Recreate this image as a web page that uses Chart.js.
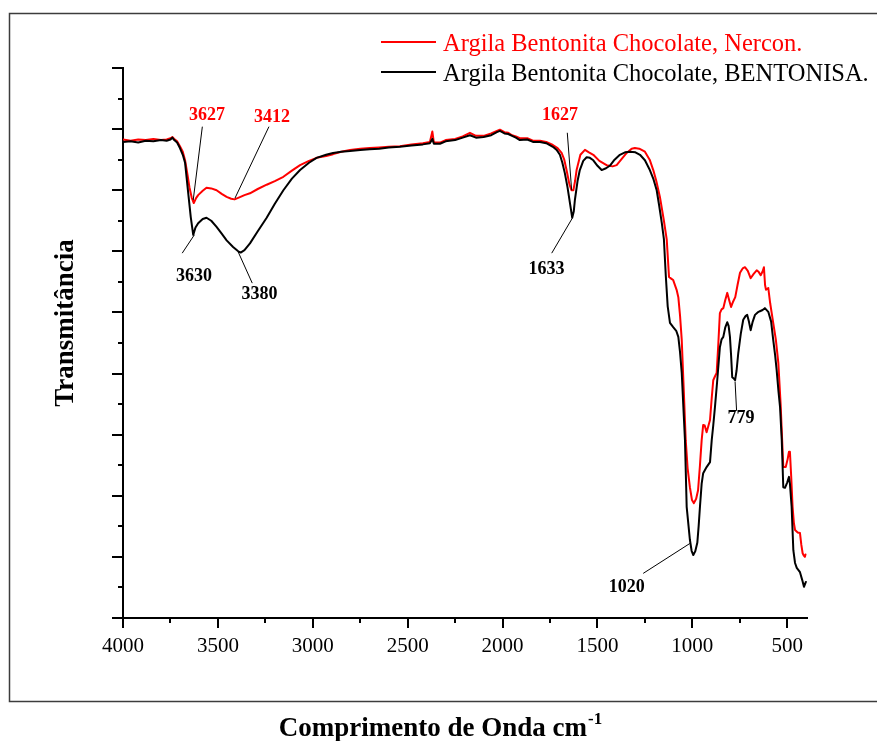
<!DOCTYPE html>
<html>
<head>
<meta charset="utf-8">
<script src="https://cdn.jsdelivr.net/npm/chart.js@4.4.1/dist/chart.umd.min.js"></script>
<style>
  html, body { margin: 0; padding: 0; background: #fff; }
  #wrap { width: 877px; height: 741px; }
</style>
</head>
<body>
<div id="wrap"><canvas id="c" width="877" height="741"></canvas></div>
<script>
// ---- Data (wavenumber cm-1, transmittance in arbitrary units) ----
const seriesNames = ['Argila Bentonita Chocolate, Nercon.', 'Argila Bentonita Chocolate, BENTONISA.'];

const redWn = [4000,3960,3920,3880,3840,3800,3770,3750,3740,3730,3715,3700,3685,3673,3660,3650,3638,3627,3615,3604,3580,3560,3535,3507,3480,3454,3430,3412,3390,3360,3331,3290,3243,3200,3155,3110,3067,3020,2980,2930,2893,2850,2804,2750,2700,2650,2600,2541,2480,2420,2383,2370,2362,2330,2300,2250,2210,2172,2140,2100,2060,2030,2014,1990,1970,1950,1930,1909,1870,1840,1803,1770,1735,1710,1689,1675,1663,1648,1637,1627,1618,1610,1590,1566,1545,1522,1490,1452,1420,1399,1370,1346,1320,1303,1280,1250,1225,1206,1190,1171,1150,1135,1123,1110,1101,1083,1074,1065,1056,1045,1035,1025,1013,1002,992,980,970,960,951,943,935,925,915,907,898,890,880,872,863,855,846,837,827,816,806,796,785,774,762,749,735,723,708,693,677,661,650,640,630,623,617,612,600,590,574,560,547,535,521,508,498,491,486,479,472,465,459,445,433,426,419,413,407,404];
const redT  = [78.3,78.1,78.3,78.2,78.4,78.2,78.3,78.5,78.7,78.4,78.0,77.2,76.3,74.9,72.5,70.5,68.8,67.9,68.7,69.2,69.9,70.4,70.3,70.0,69.4,68.9,68.6,68.5,68.8,69.2,69.5,70.2,70.9,71.5,72.2,73.2,74.1,74.8,75.3,75.6,75.9,76.3,76.6,76.8,76.9,77.0,77.1,77.2,77.5,77.7,77.9,79.6,77.8,77.8,78.2,78.4,78.8,79.4,78.9,78.9,79.3,79.7,79.9,79.5,79.4,79.0,78.8,78.5,78.5,78.1,78.1,77.9,77.4,76.9,76.1,75.0,73.3,71.0,70.0,70.0,71.5,73.3,75.8,76.6,76.2,75.8,74.8,74.1,73.9,74.1,75.2,76.1,76.8,76.9,76.8,76.3,75.0,73.3,71.5,68.9,65.0,61.9,55.8,55.5,55.3,53.7,52.5,49.5,45.5,37.0,29.1,24.5,21.4,19.3,18.8,19.5,20.9,25.0,29.1,31.6,31.5,30.4,31.5,32.4,36.0,38.9,39.6,40.1,45.0,49.9,50.5,50.7,52.0,53.2,52.0,50.9,51.8,52.5,54.5,56.5,57.2,57.4,56.8,55.6,56.3,56.9,56.6,56.1,56.7,57.4,54.5,53.7,54.0,51.5,48.3,45.5,41.7,35.0,24.7,24.7,26.0,27.2,27.2,23.0,18.2,15.5,14.4,14.0,13.9,12.0,10.6,10.2,10.0,10.4];

const blackWn = [4000,3960,3920,3880,3840,3800,3770,3750,3740,3730,3715,3700,3685,3673,3658,3643,3630,3618,3604,3580,3560,3535,3507,3480,3454,3420,3393,3380,3360,3331,3290,3243,3200,3155,3110,3067,3020,2980,2930,2893,2850,2804,2750,2700,2650,2600,2541,2480,2420,2383,2370,2362,2330,2300,2250,2210,2172,2140,2100,2060,2030,2014,1990,1970,1950,1930,1909,1870,1840,1803,1770,1735,1715,1698,1685,1672,1658,1645,1633,1625,1619,1605,1593,1575,1557,1540,1522,1500,1478,1455,1435,1410,1382,1355,1329,1300,1276,1250,1224,1205,1188,1175,1161,1150,1140,1130,1118,1101,1085,1074,1065,1056,1045,1039,1030,1013,1004,995,985,974,967,960,951,943,925,907,898,890,881,870,855,846,837,827,816,809,802,796,790,782,775,767,758,745,732,720,711,702,693,682,670,656,644,630,618,600,585,574,564,556,546,538,529,521,512,500,491,486,477,468,459,450,440,433,421,412,402];
const blackT  = [77.9,78.0,77.8,78.1,78.0,78.2,78.1,78.3,78.6,78.2,77.8,76.9,75.8,74.5,70.0,65.6,62.7,63.9,64.6,65.3,65.5,65.0,64.0,62.9,61.8,60.7,60.0,59.8,60.2,61.3,63.3,65.5,67.8,70.0,71.9,73.3,74.5,75.3,75.8,76.1,76.3,76.4,76.6,76.7,76.8,77.0,77.1,77.3,77.5,77.7,78.4,77.6,77.6,78.0,78.2,78.6,79.0,78.6,78.7,79.0,79.5,79.7,79.3,79.2,78.9,78.6,78.2,78.3,77.9,77.9,77.7,77.1,76.6,75.8,74.5,72.8,70.5,67.9,65.5,66.5,68.4,71.5,73.3,74.8,75.4,75.3,74.9,74.0,73.3,73.6,74.0,75.0,75.8,76.2,76.3,76.2,75.8,74.9,73.3,71.8,70.0,67.5,64.6,62.0,56.0,51.0,48.3,47.6,47.0,46.0,43.5,40.1,33.0,29.1,18.2,12.8,11.0,10.3,10.9,12.3,15.0,18.2,22.0,23.7,24.7,25.5,29.1,31.5,34.5,38.5,44.3,45.6,46.0,47.5,48.4,47.8,46.0,43.0,39.4,39.2,38.9,40.5,43.4,46.5,48.8,49.4,49.6,48.5,47.1,48.5,49.6,50.0,50.2,50.4,50.7,50.1,48.5,45.5,43.0,40.6,37.0,34.5,29.1,21.4,21.3,22.2,23.1,22.0,18.2,11.1,9.0,8.2,7.8,7.5,6.2,5.1,5.9];

// Axis settings
const xMin = 396, xMax = 4000;
const xTickValues = [4000,3750,3500,3250,3000,2750,2500,2250,2000,1750,1500,1250,1000,750,500];
const xLabelStep = 500;
const yMin = 0, yMax = 90;
const yTickValues = [0,5,10,15,20,25,30,35,40,45,50,55,60,65,70,75,80,85,90];
const yMajorStep = 10;

// Peak annotations (data units)
const peakLabels = ['3627', '3412', '3630', '3380', '1627', '1633', '779', '1020'];
const peakColors = ['#ff0000', '#ff0000', '#000', '#000', '#ff0000', '#000', '#000', '#000'];
const peakTextWn = [3557, 3215, 3626, 3281, 1698, 1768, 744, 1346];
const peakTextT  = [82.3, 81.9, 55.9, 52.9, 82.3, 57.0, 32.6, 5.0];
const peakFromWn = [3582, 3231, 3688, 3319, 1659, 1741, 767, 1259];
const peakFromT  = [80.4, 80.4, 59.7, 54.8, 79.4, 59.7, 33.9, 7.3];
const peakToWn   = [3630, 3410, 3624, 3393, 1636, 1633, 775, 1013];
const peakToT    = [68.4, 68.7, 62.7, 59.9, 70.0, 65.4, 38.7, 12.2];

const SERIF = "'Liberation Serif', 'Times New Roman', Times, serif";

const toPts = (xs, ys) => xs.map((v, i) => ({ x: v, y: ys[i] }));

const decor = {
  id: 'decor',
  afterDraw(chart) {
    const { ctx, chartArea: a, scales: { x, y } } = chart;
    ctx.save();
    // outer frame
    ctx.strokeStyle = '#3c3c3c';
    ctx.lineWidth = 1.5;
    ctx.strokeRect(9.5, 13.5, chart.width + 20, 688);

    // tick marks
    ctx.strokeStyle = '#000';
    ctx.lineWidth = 2;
    ctx.beginPath();
    x.ticks.forEach(t => {
      const px = Math.round(x.getPixelForValue(t.value));
      const len = t.value % xLabelStep === 0 ? 10 : 5;
      ctx.moveTo(px, a.bottom);
      ctx.lineTo(px, a.bottom + len);
    });
    y.ticks.forEach(t => {
      const py = Math.round(y.getPixelForValue(t.value));
      const len = t.value % yMajorStep === 0 ? 11 : 5;
      ctx.moveTo(a.left - len, py);
      ctx.lineTo(a.left, py);
    });
    ctx.stroke();

    // peak annotations
    ctx.lineWidth = 1;
    ctx.strokeStyle = '#000';
    ctx.font = 'bold 18px ' + SERIF;
    ctx.textAlign = 'center';
    ctx.textBaseline = 'middle';
    peakLabels.forEach((lbl, i) => {
      ctx.beginPath();
      ctx.moveTo(x.getPixelForValue(peakFromWn[i]), y.getPixelForValue(peakFromT[i]));
      ctx.lineTo(x.getPixelForValue(peakToWn[i]), y.getPixelForValue(peakToT[i]));
      ctx.stroke();
      ctx.fillStyle = peakColors[i];
      ctx.fillText(lbl, x.getPixelForValue(peakTextWn[i]), y.getPixelForValue(peakTextT[i]));
    });

    // legend
    ctx.textAlign = 'left';
    ctx.textBaseline = 'alphabetic';
    ctx.font = '24.5px ' + SERIF;
    chart.data.datasets.forEach((ds, i) => {
      const ly = 42 + i * 30;
      ctx.strokeStyle = ds.borderColor;
      ctx.lineWidth = 2;
      ctx.beginPath();
      ctx.moveTo(381, ly);
      ctx.lineTo(436, ly);
      ctx.stroke();
      ctx.fillStyle = ds.borderColor;
      ctx.fillText(ds.label, 443, ly + 8.5);
    });

    // axis titles
    ctx.fillStyle = '#000';
    ctx.font = 'bold 27px ' + SERIF;
    const main = 'Comprimento de Onda cm';
    const wMain = ctx.measureText(main).width;
    ctx.font = 'bold 17px ' + SERIF;
    const sup = '-1';
    const wSup = ctx.measureText(sup).width;
    const start = 440 - (wMain + wSup) / 2;
    ctx.font = 'bold 27px ' + SERIF;
    ctx.fillText(main, start, 736);
    ctx.font = 'bold 17px ' + SERIF;
    ctx.fillText(sup, start + wMain + 1, 724);

    ctx.save();
    ctx.translate(73, 323);
    ctx.rotate(-Math.PI / 2);
    ctx.textAlign = 'center';
    ctx.font = 'bold 27px ' + SERIF;
    ctx.fillText('Transmitância', 0, 0);
    ctx.restore();

    ctx.restore();
  }
};

new Chart(document.getElementById('c'), {
  type: 'line',
  data: {
    datasets: [
      { label: seriesNames[0], data: toPts(redWn, redT), borderColor: '#ff0000', borderWidth: 2, pointRadius: 0, tension: 0, fill: false, order: 1 },
      { label: seriesNames[1], data: toPts(blackWn, blackT), borderColor: '#000000', borderWidth: 2, pointRadius: 0, tension: 0, fill: false, order: 0 }
    ]
  },
  options: {
    responsive: false,
    animation: false,
    devicePixelRatio: 1,
    layout: { padding: { top: 68, right: 70, left: 0, bottom: 0 } },
    plugins: { legend: { display: false }, tooltip: { enabled: false }, title: { display: false } },
    elements: { line: { borderJoinStyle: 'round', borderCapStyle: 'round' } },
    scales: {
      x: {
        type: 'linear',
        reverse: true,
        min: xMin,
        max: xMax,
        afterBuildTicks(scale) { scale.ticks = xTickValues.map(v => ({ value: v })); },
        afterFit(scale) { scale.height = 123; },
        grid: { display: true, drawOnChartArea: false, drawTicks: false },
        border: { display: true, color: '#000', width: 2 },
        ticks: {
          autoSkip: false,
          maxRotation: 0,
          padding: 16,
          color: '#000',
          font: { family: SERIF, size: 21 },
          callback: (v) => (v % xLabelStep === 0 ? String(v) : '')
        }
      },
      y: {
        type: 'linear',
        min: yMin,
        max: yMax,
        afterBuildTicks(scale) { scale.ticks = yTickValues.map(v => ({ value: v })); },
        afterFit(scale) { scale.width = 123; },
        grid: { display: true, drawOnChartArea: false, drawTicks: false },
        border: { display: true, color: '#000', width: 2 },
        ticks: { display: false }
      }
    }
  },
  plugins: [decor]
});
</script>
</body>
</html>
